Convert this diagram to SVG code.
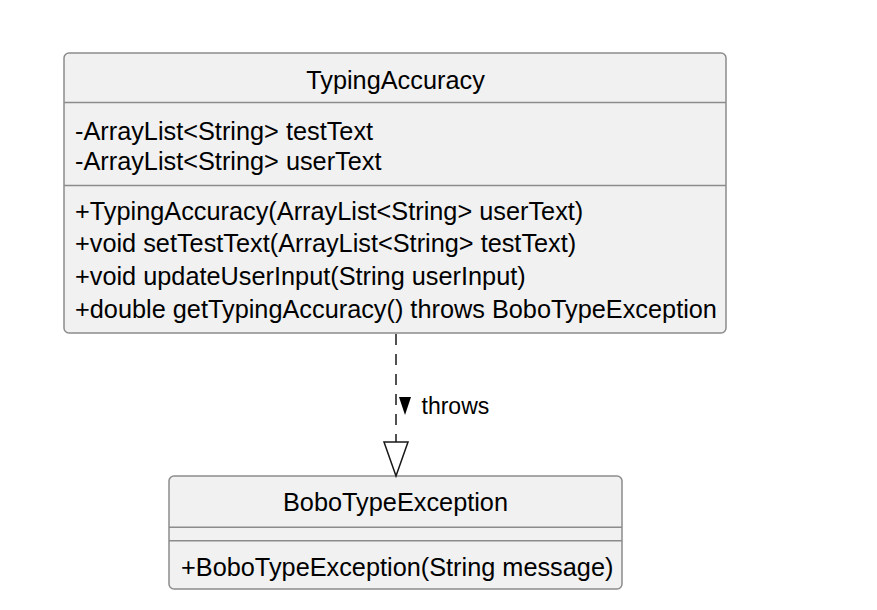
<svg xmlns="http://www.w3.org/2000/svg" width="877" height="610" viewBox="0 0 877 610">
<style>
.box{fill:#F1F1F1;stroke:#8c8c8c;stroke-width:1.5}
.div{stroke:#8c8c8c;stroke-width:1.5}
.t{font-family:"Liberation Sans",Arial,sans-serif;font-size:25.3px;fill:#000}
.c{text-anchor:middle}
.lbl{font-family:"Liberation Sans",Arial,sans-serif;font-size:23px;fill:#000}
</style>
<rect width="877" height="610" fill="#FFFFFF"/>
<g id="TypingAccuracy">
<rect class="box" x="64" y="53" width="662" height="280" rx="5" ry="5"/>
<line class="div" x1="64" y1="102.5" x2="726" y2="102.5"/>
<line class="div" x1="64" y1="185.5" x2="726" y2="185.5"/>
<text class="t c" x="395.5" y="89">TypingAccuracy</text>
<text class="t" x="75" y="139.5">-ArrayList&lt;String&gt; testText</text>
<text class="t" x="75" y="170">-ArrayList&lt;String&gt; userText</text>
<text class="t" x="75" y="220">+TypingAccuracy(ArrayList&lt;String&gt; userText)</text>
<text class="t" x="75" y="252">+void setTestText(ArrayList&lt;String&gt; testText)</text>
<text class="t" x="75" y="285">+void updateUserInput(String userInput)</text>
<text class="t" x="75" y="318">+double getTypingAccuracy() throws BoboTypeException</text>
</g>
<g id="BoboTypeException">
<rect class="box" x="169" y="476" width="453" height="113" rx="5" ry="5"/>
<line class="div" x1="169" y1="527.3" x2="622" y2="527.3"/>
<line class="div" x1="169" y1="540.7" x2="622" y2="540.7"/>
<text class="t c" x="395.5" y="511">BoboTypeException</text>
<text class="t" x="181" y="576">+BoboTypeException(String message)</text>
</g>
<g id="connectors">
<line x1="396" y1="334" x2="396" y2="442" stroke="#181818" stroke-width="1.5" stroke-dasharray="11,9"/>
<polygon points="384,442 408,442 396,476" fill="none" stroke="#181818" stroke-width="1.5"/>
<polygon points="399,397 411,397 405,415" fill="#000"/>
<text class="lbl" x="421.5" y="414">throws</text>
</g>
</svg>
